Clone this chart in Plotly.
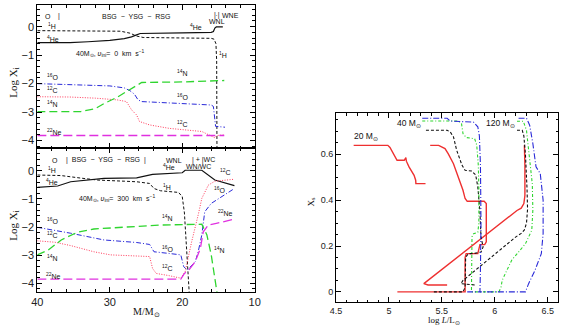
import plotly.graph_objects as go

# ---------------- data: left panels (mass vs log abundance) ----------------
# top panel: 40 Msun, v_ini = 0
H_M0 = [40, 30, 28.5, 27.2, 26.3, 25.4, 20, 16.0, 15.6, 15.35, 15.25, 15.2]
H_X0 = [-0.14, -0.14, -0.16, -0.23, -0.33, -0.38, -0.40, -0.41, -0.44, -0.6, -1.2, -5]
He_M0 = [40, 35.5, 33, 30, 28, 27, 26.3, 25.8, 20, 16.0, 15.7, 15.5, 15.3, 14.4]
He_X0 = [-0.56, -0.56, -0.53, -0.48, -0.42, -0.36, -0.29, -0.24, -0.22, -0.20, -0.17, -0.05, -0.01, -0.01]
O_M0 = [40, 35, 30, 28, 27.2, 26.6, 26.1, 25.6, 20, 16.0, 15.7, 15.5, 15.4, 14.1]
O_X0 = [-2.0, -2.03, -2.08, -2.15, -2.25, -2.37, -2.57, -2.63, -2.70, -2.75, -2.8, -3.2, -3.5, -3.53]
C_M0 = [40, 35.5, 32, 29, 27.7, 27.0, 26.3, 25.9, 24.5, 21.8, 17.3, 15.9, 15.5, 15.2, 14.2]
C_X0 = [-2.46, -2.47, -2.51, -2.57, -2.63, -2.92, -3.1, -3.33, -3.45, -3.57, -3.68, -3.86, -3.9, -3.82, -3.8]
N_M0 = [40, 34, 32, 30.8, 29, 27.2, 26, 25.6, 20, 14.2]
N_X0 = [-2.98, -2.98, -2.88, -2.70, -2.48, -2.22, -2.02, -1.96, -1.94, -1.89]
Ne_M0 = [40, 16, 15.4, 14.2]
Ne_X0 = [-3.82, -3.82, -3.84, -3.82]

# bottom panel: 40 Msun, v_ini = 300
H_M3 = [40, 36.7, 34, 31.7, 28, 26.3, 24.5, 23.9, 23.0, 20.5, 20.0, 19.7, 19.0]
H_X3 = [-0.15, -0.17, -0.26, -0.33, -0.37, -0.39, -0.45, -0.63, -0.71, -0.77, -0.92, -1.5, -4.5]
He_M3 = [40, 37.2, 35.4, 32, 30.8, 26.3, 24.1, 20.0, 19.6, 17.3, 16.4, 15.5, 12.8]
He_X3 = [-0.59, -0.54, -0.39, -0.29, -0.27, -0.25, -0.13, -0.07, 0.02, 0.02, -0.15, -0.33, -0.53]
C_M3 = [40, 37.6, 35.4, 32.2, 29.9, 24.5, 24.1, 23.6, 21.8, 20.2, 19.6, 19.1, 18.7, 17.8, 17.3, 16.4, 15.5, 12.8]
C_X3 = [-2.49, -2.54, -2.66, -2.88, -2.99, -3.05, -3.47, -3.65, -3.73, -3.82, -3.59, -2.99, -2.52, -1.57, -0.98, -0.51, -0.37, -0.30]
O_M3 = [40, 35.4, 30.8, 26.3, 24.5, 23.9, 21.8, 20.2, 19.8, 19.3, 18.2, 17.8, 17.3, 16.9, 16.0, 14.6, 12.8]
O_X3 = [-2.01, -2.22, -2.46, -2.55, -2.62, -2.88, -2.94, -2.99, -3.41, -3.53, -3.23, -2.88, -2.28, -1.46, -1.16, -0.92, -0.63]
N_M3 = [40, 38.5, 36.7, 34.5, 32.2, 28.6, 25.0, 23.2, 17.3, 16.6, 16.0, 15.1]
N_X3 = [-2.99, -2.82, -2.46, -2.19, -2.07, -2.02, -1.96, -1.93, -1.90, -2.28, -2.99, -4.5]
Ne_M3 = [40, 20.2, 19.7, 19.1, 18.2, 17.5, 17.1, 16.4, 15.3, 12.8]
Ne_X3 = [-3.85, -3.85, -3.65, -3.53, -3.23, -2.76, -2.17, -1.93, -1.87, -1.72]

# ---------------- data: right panel (log L vs surface X) ----------------
R20_L = [4.667, 4.99, 5.01, 5.046, 5.077, 5.145, 5.16, 5.165, 5.19, 5.238, 5.253, 5.255, 5.346]
R20_X = [0.639, 0.639, 0.63, 0.596, 0.574, 0.574, 0.585, 0.57, 0.545, 0.508, 0.487, 0.472, 0.472]
R40_L = [5.39, 5.47, 5.53, 5.56, 5.61, 5.65, 5.70, 5.72, 5.74, 5.90, 5.92, 5.92, 5.905, 5.86, 5.84, 5.73, 5.72, 5.72, 5.42, 5.08]
R40_X = [0.639, 0.639, 0.625, 0.603, 0.559, 0.508, 0.443, 0.407, 0.395, 0.395, 0.385, 0.218, 0.206, 0.206, 0.167, 0.167, 0.15, 0.0, 0.0, 0.0]
R120_L = [6.28, 6.285, 6.285, 6.275, 6.25, 6.21, 5.33, 5.37, 5.55]
R120_X = [0.639, 0.55, 0.42, 0.385, 0.365, 0.355, 0.036, 0.03, 0.03]

K40_L = [5.35, 5.55, 5.58, 5.61, 5.64, 5.69, 5.72, 5.78, 5.82, 5.84, 5.86, 5.87, 5.89, 5.87, 5.80, 5.75, 5.725, 5.72, 5.70, 5.42]
K40_X = [0.705, 0.705, 0.697, 0.676, 0.618, 0.553, 0.53, 0.527, 0.51, 0.458, 0.35, 0.24, 0.196, 0.174, 0.167, 0.167, 0.15, 0.02, 0.0, 0.0]
K120_L = [6.21, 6.26, 6.275, 6.29, 6.305, 6.31, 6.30, 6.28, 6.25, 6.20, 5.70, 5.68, 5.82]
K120_X = [0.705, 0.705, 0.68, 0.60, 0.45, 0.36, 0.30, 0.27, 0.255, 0.24, 0.05, 0.036, 0.03]

G40_L = [5.315, 5.655, 5.686, 5.70, 5.73, 5.81, 5.83, 5.845, 5.85, 5.85, 5.84, 5.80, 5.785, 5.78, 5.78]
G40_X = [0.745, 0.745, 0.734, 0.69, 0.673, 0.668, 0.64, 0.55, 0.45, 0.30, 0.26, 0.254, 0.24, 0.05, 0.0]
G120_L = [6.21, 6.27, 6.30, 6.33, 6.355, 6.36, 6.35, 6.29, 6.16, 6.10, 6.07, 6.06, 6.04, 5.78]
G120_X = [0.744, 0.744, 0.704, 0.574, 0.47, 0.356, 0.269, 0.21, 0.138, 0.08, 0.05, 0.022, 0.0, 0.0]

B40_L = [5.315, 5.55, 5.58, 5.80, 5.84, 5.855, 5.865, 5.87, 5.865, 5.86, 5.74]
B40_X = [0.757, 0.757, 0.745, 0.74, 0.72, 0.68, 0.55, 0.30, 0.10, 0.0, 0.0]
B120_L = [6.225, 6.30, 6.33, 6.36, 6.39, 6.43, 6.457, 6.457, 6.44, 6.38, 6.32, 6.29, 5.86]
B120_X = [0.757, 0.757, 0.727, 0.647, 0.545, 0.516, 0.40, 0.254, 0.167, 0.094, 0.036, 0.0, 0.0]

# ---------------- styling ----------------
W, H = 576, 329
def xp(px):
    return px / W
def yp(py):
    return 1 - py / H

BLACK = "#111111"
RED_DOT = "#ff3a5a"
GREEN = "#2fd52f"
BLUE = "#2a2ad8"
MAGENTA = "#e030e0"
RED = "#ee3030"

fig = go.Figure()

def add(x, y, color, dash, width, xa, ya):
    fig.add_trace(go.Scatter(x=x, y=y, mode="lines", xaxis=xa, yaxis=ya,
                             line=dict(color=color, dash=dash, width=width),
                             hoverinfo="skip", showlegend=False))

for (xa, ya, sets) in [
    ("x", "y", [(H_M0, H_X0), (He_M0, He_X0), (O_M0, O_X0), (C_M0, C_X0), (N_M0, N_X0), (Ne_M0, Ne_X0)]),
    ("x2", "y2", [(H_M3, H_X3), (He_M3, He_X3), (O_M3, O_X3), (C_M3, C_X3), (N_M3, N_X3), (Ne_M3, Ne_X3)]),
]:
    styles = [(BLACK, "3px,2px", 1.0), (BLACK, "solid", 1.2), (BLUE, "5px,2px,1px,2px", 1.0),
              (RED_DOT, "1px,1.5px", 1.0), (GREEN, "8px,4px", 1.3), (MAGENTA, "9px,4px", 1.3)]
    for (mx, my), (c, d, w) in zip(sets, styles):
        add(mx, my, c, d, w, xa, ya)

for (lx, ly) in [(R20_L, R20_X), (R40_L, R40_X), (R120_L, R120_X)]:
    add(lx, ly, RED, "solid", 1.4, "x3", "y3")
for (lx, ly) in [(K40_L, K40_X), (K120_L, K120_X)]:
    add(lx, ly, BLACK, "3px,2px", 1.1, "x3", "y3")
for (lx, ly) in [(G40_L, G40_X), (G120_L, G120_X)]:
    add(lx, ly, GREEN, "3px,2px,1px,2px", 1.1, "x3", "y3")
for (lx, ly) in [(B40_L, B40_X), (B120_L, B120_X)]:
    add(lx, ly, BLUE, "6px,2px,1px,2px", 1.1, "x3", "y3")

TICKFONT = dict(family="Liberation Sans", size=11, color="#222")
TICKFONT_R = dict(family="Liberation Sans", size=9, color="#222")

def axis(domain, rng, dtick, minor, anchor, labels=True, font=TICKFONT):
    return dict(domain=domain, range=rng, dtick=dtick, tick0=0, anchor=anchor,
                showline=True, linecolor="black", linewidth=1, mirror="allticks",
                ticks="inside", ticklen=5, tickwidth=1, tickcolor="black",
                minor=dict(dtick=minor, ticks="inside", ticklen=2.5, tickwidth=1, tickcolor="black"),
                showgrid=False, zeroline=False, showticklabels=labels, tickfont=font,
                fixedrange=True)

fig.update_layout(
    width=W, height=H,
    margin=dict(l=0, r=0, t=0, b=0),
    paper_bgcolor="white", plot_bgcolor="white",
    showlegend=False,
    xaxis=axis([xp(32), xp(254)], [40, 10], 10, 2, "y", labels=False),
    yaxis=axis([yp(148.3), yp(5)], [-4.27, 0.76], 1, 0.2, "x"),
    xaxis2=axis([xp(32), xp(254)], [40, 10], 10, 2, "y2"),
    yaxis2=axis([yp(291.7), yp(148.3)], [-4.30, 0.80], 1, 0.2, "x2"),
    xaxis3=axis([xp(337), xp(564)], [4.5, 6.6], 0.5, 0.1, "y3", font=TICKFONT_R),
    yaxis3=axis([yp(302), yp(113)], [-0.044, 0.78], 0.2, 0.05, "x3", font=TICKFONT_R),
)

def label(text, px, py, size=7, angle=0, family="Liberation Sans"):
    fig.add_annotation(text=text, x=xp(px), y=yp(py), xref="paper", yref="paper",
                       showarrow=False, textangle=angle,
                       font=dict(family=family, size=size, color="#111"),
                       xanchor="center", yanchor="middle")

def iso(a, el):
    return "<sup>%s</sup>%s" % (a, el)

# top panel labels
label("O", 43, 16)
label("|", 54, 16)
label("BSG  −  YSG  −  RSG", 133, 16)
label("|∙|", 215, 15)
label("WNE", 229, 15)
label("WNL", 215, 22)
label(iso(1, "H"), 47, 26)
label(iso(4, "He"), 48, 39)
label(iso(4, "He"), 194, 27)
label(iso(1, "H"), 222, 55)
label("40M<sub>⊙</sub>, <i>υ</i><sub>ini</sub>=  0  km  s<sup>−1</sup>", 107, 54)
label(iso(16, "O"), 47, 77)
label(iso(12, "C"), 47, 90)
label(iso(14, "N"), 47, 104)
label(iso(22, "Ne"), 50, 132)
label(iso(14, "N"), 180, 73)
label(iso(16, "O"), 180, 97)
label(iso(12, "C"), 180, 124)

# bottom panel labels
label("O", 50, 160)
label("|  BSG  −  YSG  −  RSG  |", 102, 160)
label("WNL", 172, 160)
label("| + |WC", 202, 160)
label("WN/WC", 197, 166)
label(iso(1, "H"), 47, 170)
label(iso(4, "He"), 47, 182)
label(iso(4, "He"), 166, 167)
label(iso(1, "H"), 164, 187)
label(iso(12, "C"), 224, 172)
label(iso(16, "O"), 218, 190)
label(iso(22, "Ne"), 224, 213)
label(iso(14, "N"), 218, 250)
label("40M<sub>⊙</sub>, <i>υ</i><sub>ini</sub>=  300  km  s<sup>−1</sup>", 113, 198)
label(iso(14, "N"), 165, 218)
label(iso(16, "O"), 165, 249)
label(iso(12, "C"), 165, 268)
label(iso(16, "O"), 47, 221)
label(iso(12, "C"), 47, 235)
label(iso(14, "N"), 47, 258)
label(iso(22, "Ne"), 48, 276)

# axis titles
label("Log X<sub>i</sub>", 8, 82, size=11, angle=-90, family="Liberation Serif")
label("Log X<sub>i</sub>", 8, 225, size=11, angle=-90, family="Liberation Serif")
label("M/M<sub>⊙</sub>", 143, 312, size=10, family="Liberation Serif")

# right panel labels
label("20 M<sub>⊙</sub>", 368, 137, size=8.5)
label("40 M<sub>⊙</sub>", 412, 124, size=8.5)
label("120 M<sub>⊙</sub>", 505, 124, size=8.5)
label("X<sub>s</sub>", 311, 202, size=9, angle=-90, family="Liberation Serif")
label("log <i>L</i>/L<sub>⊙</sub>", 447, 320, size=9, family="Liberation Serif")

fig.write_html("out.html")
